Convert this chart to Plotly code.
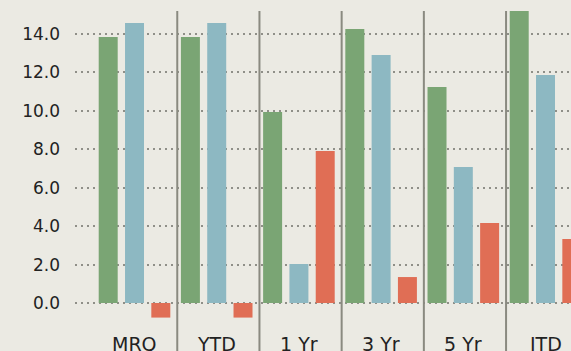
import plotly.graph_objects as go

# Trailing-period returns (%) by horizon
periods = ["MRQ", "YTD", "1 Yr", "3 Yr", "5 Yr", "ITD"]
fund = [13.84, 13.84, 9.94, 14.26, 11.24, 15.6]
benchmark = [14.57, 14.57, 2.03, 12.91, 7.08, 11.87]
peer = [-0.76, -0.76, 7.91, 1.35, 4.16, 3.33]
y_ticks = [0, 2, 4, 6, 8, 10, 12, 14]

series = [
    ("Fund", fund, "#7aa574"),
    ("Benchmark", benchmark, "#8db8c2"),
    ("Peer", peer, "#e06e55"),
]

bar_w = 0.231
step = 0.32
xs = list(range(len(periods)))

fig = go.Figure()
for k, (name, vals, color) in enumerate(series):
    fig.add_trace(go.Bar(
        x=xs, y=vals, name=name,
        width=bar_w, offset=(k - 1) * step - bar_w / 2,
        marker=dict(color=color, line=dict(width=0)),
        showlegend=False, hoverinfo="skip",
    ))

# vertical separators between period groups
shapes = []
for i in range(len(periods) - 1):
    shapes.append(dict(
        type="line", xref="x", yref="paper",
        x0=i + 0.52, x1=i + 0.52, y0=0, y1=1,
        line=dict(color="#8a8a80", width=2), layer="above",
    ))

# period labels under each group
annotations = [
    dict(x=i, y=-2.13, xref="x", yref="y", text=p, showarrow=False,
         xanchor="center", yanchor="middle",
         font=dict(family="DejaVu Sans", size=19, color="#222222"))
    for i, p in enumerate(periods)
]

fig.update_layout(
    width=571, height=351,
    margin=dict(l=75, r=0, t=11, b=0),
    paper_bgcolor="#ebeae3", plot_bgcolor="#ebeae3",
    barmode="overlay",
    shapes=shapes, annotations=annotations,
    font=dict(family="DejaVu Sans", size=17, color="#222222"),
    xaxis=dict(range=[-0.724, 5.31], showgrid=False, zeroline=False,
               showticklabels=False, showline=False, fixedrange=True),
    yaxis=dict(range=[-2.5, 15.2], tickvals=y_ticks,
               ticktext=[f"{v:.1f}" for v in y_ticks],
               showgrid=True, gridcolor="#8f8f88", gridwidth=1.5,
               griddash="2px,4px", zeroline=False, showline=False,
               ticks="", ticklabelstandoff=14, fixedrange=True),
)

fig.write_html("out.html")
